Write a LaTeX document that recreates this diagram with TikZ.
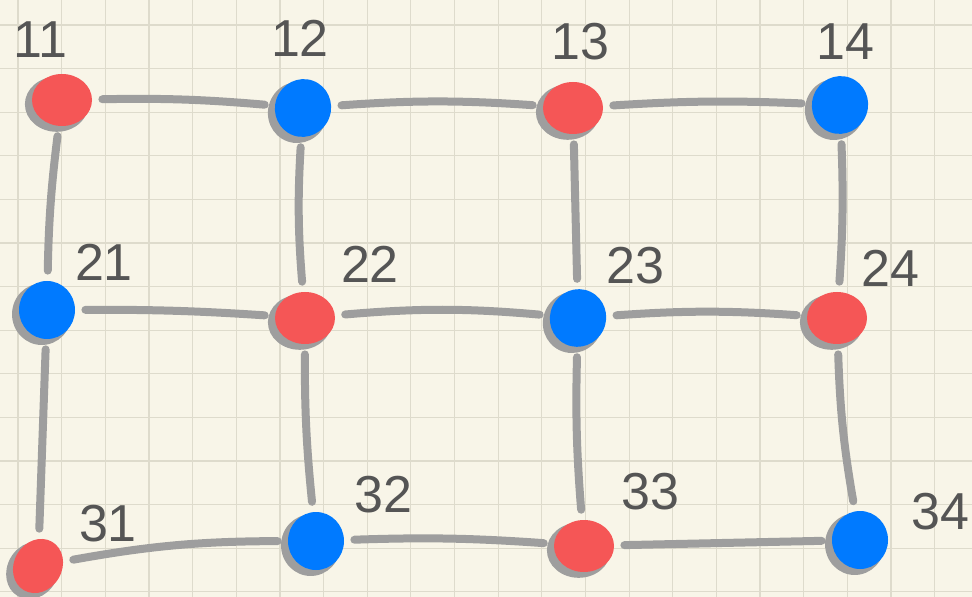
\documentclass[tikz,border=0pt]{standalone}
\usepackage{fontspec}
\setmainfont{Liberation Sans}
\usetikzlibrary{shapes.geometric,shadows}
\definecolor{paper}{RGB}{248,245,232}
\definecolor{gridc}{RGB}{222,219,204}
\definecolor{edgec}{RGB}{158,158,158}
\definecolor{redn}{RGB}{245,86,86}
\definecolor{bluen}{RGB}{0,122,255}
\definecolor{txt}{RGB}{85,85,85}
\tikzset{
  vtx/.style={ellipse, inner sep=0pt, minimum width=30pt, minimum height=26pt,
    general shadow={fill=edgec, shadow xshift=-2.5pt, shadow yshift=-2pt, shadow scale=1.06}},
  rv/.style={vtx, fill=redn},
  bv/.style={vtx, fill=bluen, minimum width=28pt, minimum height=29pt},
  lab/.style={text=txt, font=\fontsize{26}{26}\selectfont, inner sep=0pt},
  edge/.style={draw=edgec, line width=4pt, line cap=round, shorten <=5pt, shorten >=5pt}
}
\begin{document}
\begin{tikzpicture}[x=0.5pt,y=-0.5pt]
\fill[paper] (0,0) rectangle (972,597);
\useasboundingbox (0,0) rectangle (972,597);
\foreach \i in {0,...,22} {
  \draw[gridc, line width=0.6pt] ({18+43.65*\i},0) -- ({18+43.65*\i},597);
}
\foreach \j in {0,...,13} {
  \draw[gridc, line width=0.6pt] (0,{25+43.6*\j}) -- (972,{25+43.6*\j});
}
% nodes
\node[rv] (n11) at (62,100) {};
\node[bv, rotate=-20] (n12) at (303,108) {};
\node[rv] (n13) at (573,108) {};
\node[bv, rotate=-20] (n14) at (840,105) {};
\node[bv] (n21) at (47,310) {};
\node[rv] (n22) at (305,318) {};
\node[bv, rotate=-25] (n23) at (578,318) {};
\node[rv] (n24) at (837,318) {};
\node[rv, minimum width=24pt, minimum height=28pt, rotate=-30] (n31) at (38,566) {};
\node[bv] (n32) at (316,541) {};
\node[rv] (n33) at (584,546) {};
\node[bv] (n34) at (860,540) {};
% edges (behind nodes visually drawn after with gaps)
\begin{scope}[on background layer/.style={}]
\draw[edge] (n11) to[bend left=3] (n12);
\draw[edge] (n12) to[bend left=4] (n13);
\draw[edge] (n13) to[bend left=3] (n14);
\draw[edge] (n11) to[bend right=3] (n21);
\draw[edge] (n12) to[bend right=4] (n22);
\draw[edge] (n13) -- (n23);
\draw[edge] (n14) to[bend left=3] (n24);
\draw[edge] (n21) to[bend left=2] (n22);
\draw[edge] (n22) to[bend left=5] (n23);
\draw[edge] (n23) to[bend left=4] (n24);
\draw[edge] (n21) -- (n31);
\draw[edge] (n22) to[bend right=3] (n32);
\draw[edge] (n23) to[bend right=3] (n33);
\draw[edge] (n24) to[bend right=4] (n34);
\draw[edge] (n31) to[bend left=5] (n32);
\draw[edge] (n32) to[bend left=3] (n33);
\draw[edge] (n33) -- (n34);
\end{scope}
% labels
\node[lab] (l11) at (40,40) {11};
\node[lab] (l12) at (300,38) {12};
\node[lab] (l13) at (580,42) {13};
\node[lab] (l14) at (845,42) {14};
\node[lab] (l21) at (104,262) {21};
\node[lab] (l22) at (370,264) {22};
\node[lab] (l23) at (635,266) {23};
\node[lab] (l24) at (890,268) {24};
\node[lab] (l31) at (108,524) {31};
\node[lab] (l32) at (383,495) {32};
\node[lab] (l33) at (650,492) {33};
\node[lab] (l34) at (940,512) {34};
\end{tikzpicture}
\end{document}
